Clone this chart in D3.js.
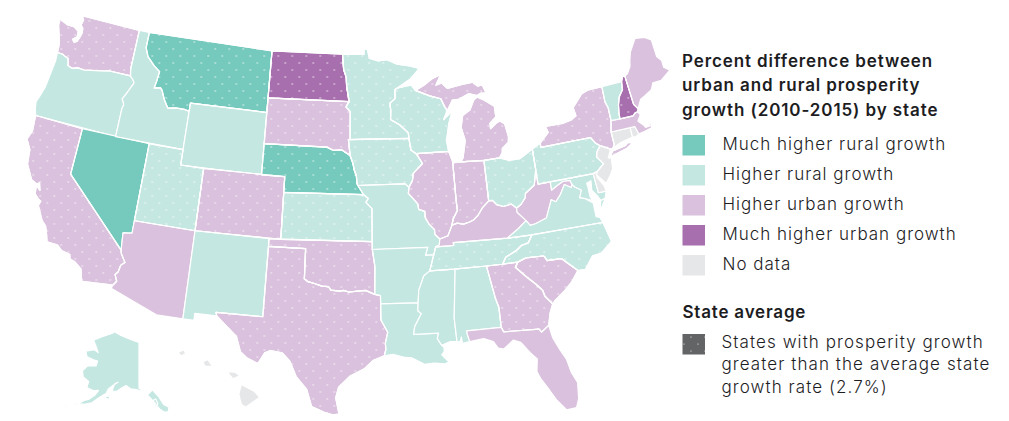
<!DOCTYPE html>
<html>
<head>
<meta charset="utf-8">
<script src="https://cdn.jsdelivr.net/npm/d3@7"></script>
<style>
  html, body { margin: 0; padding: 0; background: #fff; }
  text { font-family: Inter, "Noto Sans", sans-serif; fill: #1d1d1f; }
</style>
</head>
<body>
<div id="visualization"></div>
<script>
let w = 1009;
let h = 421;

// categories, each state by postal code
let muchRural = ["MT", "NV", "NE"];
let higherRural = ["OR", "ID", "WY", "UT", "NM", "KS", "MN", "IA", "MO", "AR", "LA", "MS", "AL", "WI", "OH", "PA", "VA", "NC", "TN", "MD", "VT", "AK"];
let higherUrban = ["WA", "CA", "AZ", "CO", "SD", "OK", "TX", "IL", "IN", "MI", "KY", "WV", "GA", "SC", "FL", "NY", "MA", "ME"];
let muchUrban = ["ND", "NH"];
let noData = ["NJ", "DE", "CT", "RI", "HI"];

// above the average state growth rate
let dotted = ["WA", "MT", "ND", "SD", "NE", "CA", "UT", "CO", "KS", "OK", "TX", "MN", "IA", "WI", "IL", "IN", "MI", "OH", "PA", "NY", "NH", "TN", "NC", "GA", "SC"];

let legendLabels = ["Much higher rural growth", "Higher rural growth", "Higher urban growth", "Much higher urban growth", "No data"];
let legendColors = ["#75c9bd", "#c5e7e2", "#dac1dd", "#a86fae", "#e6e7e8"];
let titleLines = ["Percent difference between", "urban and rural prosperity", "growth (2010-2015) by state"];
let averageTitle = "State average";
let averageLines = ["States with prosperity growth", "greater than the average state", "growth rate (2.7%)"];

// state outlines in lon/lat, traced by eye
let WA = [[[-117.04,49],[-122.76,49],[-122.5,48.75],[-122.6,48.4],[-122.35,48.2],[-122.3,47.9],[-122.4,47.6],[-122.55,47.3],[-122.8,47.2],[-123,47.35],[-122.65,47.6],[-122.7,47.95],[-123.15,48.15],[-123.9,48.16],[-124.72,48.38],[-124.65,47.95],[-124.3,47.3],[-124.1,46.9],[-124.05,46.65],[-124,46.26],[-123.5,46.25],[-123.2,46.15],[-122.9,46.08],[-122.8,45.85],[-122.75,45.65],[-122.3,45.55],[-121.8,45.68],[-121.2,45.65],[-120.6,45.74],[-119.9,45.84],[-119.3,45.93],[-119,46],[-116.92,46],[-117.04,46.42]]];
let OR = [[[-124,46.26],[-123.5,46.25],[-123.2,46.15],[-122.9,46.08],[-122.8,45.85],[-122.75,45.65],[-122.3,45.55],[-121.8,45.68],[-121.2,45.65],[-120.6,45.74],[-119.9,45.84],[-119.3,45.93],[-119,46],[-116.92,46],[-116.6,45.78],[-116.46,45.6],[-116.68,45.25],[-116.85,44.95],[-117.2,44.45],[-117.03,44.25],[-116.95,44.1],[-117.03,43.83],[-117.03,42],[-124.21,42],[-124.4,42.3],[-124.55,42.84],[-124.4,43.2],[-124.15,43.9],[-124.05,44.8],[-123.95,45.7]]];
let CA = [[[-124.21,42],[-120,42],[-120,39],[-114.63,35],[-114.57,34.8],[-114.15,34.28],[-114.43,34.05],[-114.53,33.6],[-114.72,33.4],[-114.5,33],[-114.72,32.72],[-117.12,32.53],[-117.25,32.85],[-117.4,33.3],[-118,33.65],[-118.4,33.75],[-118.5,34.03],[-119.2,34.15],[-119.6,34.42],[-120.47,34.45],[-120.65,34.9],[-120.9,35.4],[-121.3,35.7],[-121.9,36.55],[-121.8,36.85],[-122.05,36.95],[-122.4,37.2],[-122.5,37.75],[-122.1,37.5],[-122.3,37.95],[-122.5,37.83],[-123,38],[-123.7,38.9],[-123.85,39.8],[-124.35,40.4],[-124.1,41],[-124.2,41.75]]];
let NV = [[[-120,42],[-114.04,42],[-114.04,36.2],[-114.75,36.1],[-114.7,35.6],[-114.63,35],[-120,39]]];
let ID = [[[-117.04,49],[-116.05,49],[-116.05,48],[-115.7,47.45],[-114.95,46.95],[-114.35,46.65],[-114.45,46],[-114.55,45.56],[-114,45.65],[-113.8,45.5],[-113.45,44.95],[-113,44.45],[-112.3,44.55],[-111.5,44.55],[-111.05,44.48],[-111.05,42],[-117.03,42],[-117.03,43.83],[-116.95,44.1],[-117.03,44.25],[-117.2,44.45],[-116.85,44.95],[-116.68,45.25],[-116.46,45.6],[-116.6,45.78],[-116.92,46],[-117.04,46.42]]];
let MT = [[[-116.05,49],[-104.05,49],[-104.05,45],[-111.05,45],[-111.05,44.48],[-111.5,44.55],[-112.3,44.55],[-113,44.45],[-113.45,44.95],[-113.8,45.5],[-114,45.65],[-114.55,45.56],[-114.45,46],[-114.35,46.65],[-114.95,46.95],[-115.7,47.45],[-116.05,48]]];
let WY = [[[-111.05,45],[-104.05,45],[-104.05,41],[-111.05,41]]];
let UT = [[[-114.04,42],[-111.05,42],[-111.05,41],[-109.05,41],[-109.05,37],[-114.04,37]]];
let CO = [[[-109.05,41],[-102.05,41],[-102.05,37],[-109.05,37]]];
let AZ = [[[-114.04,37],[-109.05,37],[-109.05,31.33],[-111.07,31.33],[-114.81,32.5],[-114.72,32.72],[-114.5,33],[-114.72,33.4],[-114.53,33.6],[-114.43,34.05],[-114.15,34.28],[-114.57,34.8],[-114.63,35],[-114.7,35.6],[-114.75,36.1],[-114.04,36.2]]];
let NM = [[[-109.05,37],[-103,37],[-103.04,32],[-106.62,32],[-106.53,31.78],[-108.21,31.78],[-108.21,31.33],[-109.05,31.33]]];
let TX = [[[-103,36.5],[-100,36.5],[-100,34.56],[-99.7,34.4],[-99.2,34.3],[-98.6,34.15],[-98.1,34.13],[-97.9,33.9],[-97.2,33.85],[-96.9,33.9],[-96.5,33.8],[-95.8,33.85],[-95.2,33.9],[-94.48,33.64],[-94.04,33.55],[-94.04,33.02],[-94.04,32],[-93.55,31.2],[-93.75,30.5],[-93.72,30.1],[-93.85,29.7],[-94.7,29.4],[-95.3,28.9],[-96.4,28.4],[-97.2,27.7],[-97.4,27],[-97.15,25.96],[-97.6,25.9],[-98.2,26.05],[-99.1,26.4],[-99.5,27.5],[-100.3,28.3],[-100.8,29.25],[-101.4,29.77],[-102.3,29.88],[-102.7,29.7],[-103.15,28.98],[-104,29.3],[-104.5,29.65],[-104.9,30.6],[-106,31.4],[-106.53,31.78],[-106.62,32],[-103.04,32]]];
let OK = [[[-103,37],[-94.62,37],[-94.62,36.5],[-94.43,35.4],[-94.48,33.64],[-95.2,33.9],[-95.8,33.85],[-96.5,33.8],[-96.9,33.9],[-97.2,33.85],[-97.9,33.9],[-98.1,34.13],[-98.6,34.15],[-99.2,34.3],[-99.7,34.4],[-100,34.56],[-100,36.5],[-103,36.5]]];
let KS = [[[-102.05,40],[-95.3,40],[-94.9,39.75],[-95.1,39.5],[-94.6,39.1],[-94.62,37],[-102.05,37]]];
let NE = [[[-104.05,43],[-98.5,43],[-97.9,42.8],[-97.2,42.85],[-96.45,42.49],[-96.2,42],[-96.1,41.6],[-95.9,41.2],[-95.85,40.7],[-95.77,40.58],[-95.3,40],[-102.05,40],[-102.05,41],[-104.05,41]]];
let SD = [[[-104.05,45.94],[-96.56,45.94],[-96.85,45.6],[-96.45,45.3],[-96.45,43.5],[-96.6,43.5],[-96.45,42.49],[-97.2,42.85],[-97.9,42.8],[-98.5,43],[-104.05,43]]];
let ND = [[[-104.05,49],[-97.23,49],[-97.1,48],[-96.85,47.5],[-96.8,46.9],[-96.56,45.94],[-104.05,45.94]]];
let MN = [[[-97.23,49],[-95.15,49],[-95.15,49.38],[-94.8,49.3],[-94.65,48.75],[-93.8,48.55],[-92.95,48.62],[-92,48.3],[-90.8,48.15],[-89.9,47.95],[-90.8,47.3],[-92.1,46.75],[-92.3,46.66],[-92.3,46.1],[-92.8,45.8],[-92.75,45.3],[-92.8,44.75],[-92,44.4],[-91.25,43.85],[-91.22,43.5],[-96.45,43.5],[-96.45,45.3],[-96.85,45.6],[-96.56,45.94],[-96.8,46.9],[-96.85,47.5],[-97.1,48]]];
let IA = [[[-96.6,43.5],[-91.22,43.5],[-91.1,42.75],[-90.65,42.5],[-90.15,41.85],[-91,41.25],[-91.1,40.8],[-91.42,40.38],[-91.73,40.61],[-95.77,40.58],[-95.85,40.7],[-95.9,41.2],[-96.1,41.6],[-96.2,42],[-96.45,42.49]]];
let MO = [[[-95.77,40.58],[-91.73,40.61],[-91.42,40.38],[-91.5,40],[-90.75,39.3],[-90.7,38.95],[-90.2,38.8],[-90.2,38.4],[-89.9,37.95],[-89.5,37.6],[-89.5,37.3],[-89.13,36.98],[-89.2,36.6],[-89.5,36.5],[-89.7,36],[-90.37,36],[-90.15,36.5],[-94.62,36.5],[-94.62,37],[-94.6,39.1],[-95.1,39.5],[-94.9,39.75],[-95.3,40]]];
let AR = [[[-94.62,36.5],[-90.15,36.5],[-90.37,36],[-89.7,36],[-90.1,35],[-90.6,34.7],[-91.05,33.8],[-91.15,33],[-94.04,33.02],[-94.04,33.55],[-94.48,33.64],[-94.43,35.4]]];
let LA = [[[-94.04,33.02],[-91.15,33],[-91.2,32.5],[-90.95,32.3],[-91.5,31.5],[-91.6,31],[-89.73,31],[-89.85,30.65],[-89.55,30.2],[-89.4,30.05],[-89.4,29.8],[-89.6,29.6],[-89.1,29.1],[-89.4,29],[-90.2,29.1],[-90.9,29.05],[-91.8,29.5],[-92.3,29.55],[-93.2,29.77],[-93.85,29.7],[-93.72,30.1],[-93.75,30.5],[-93.55,31.2],[-94.04,32]]];
let MS = [[[-90.1,35],[-88.2,35],[-88.1,34.9],[-88.47,31.9],[-88.4,30.37],[-88.9,30.4],[-89.55,30.2],[-89.85,30.65],[-89.73,31],[-91.6,31],[-91.5,31.5],[-90.95,32.3],[-91.2,32.5],[-91.15,33],[-91.05,33.8],[-90.6,34.7]]];
let AL = [[[-88.2,35],[-85.6,35],[-85.18,32.87],[-85,32.3],[-85,31],[-87.6,31],[-87.6,30.85],[-87.45,30.3],[-88,30.23],[-88.05,30.65],[-88.15,30.35],[-88.4,30.37],[-88.47,31.9],[-88.1,34.9]]];
let TN = [[[-90.1,35],[-89.7,36],[-89.5,36.5],[-88.05,36.5],[-88.07,36.68],[-83.68,36.6],[-81.68,36.59],[-82.05,36.12],[-82.6,36.03],[-83.1,35.75],[-84,35.4],[-84.32,34.99],[-85.6,35],[-88.2,35]]];
let KY = [[[-89.5,36.5],[-89.2,36.6],[-89.13,36.98],[-88.45,37.15],[-88.05,37.8],[-87.6,37.9],[-87.1,37.8],[-86.6,37.9],[-86.25,38],[-85.85,38.25],[-85.4,38.72],[-84.82,39.1],[-84.5,39.1],[-84.2,38.8],[-83.65,38.63],[-83,38.72],[-82.6,38.42],[-82.6,38.15],[-81.97,37.54],[-82.7,37.1],[-83.68,36.6],[-88.07,36.68],[-88.05,36.5]]];
let WV = [[[-82.6,38.42],[-82.2,38.6],[-81.75,39],[-81.7,39.25],[-80.85,39.7],[-80.52,40.64],[-80.52,39.72],[-79.48,39.72],[-79.48,39.2],[-78.9,39.45],[-78.4,39.62],[-77.83,39.6],[-77.72,39.32],[-77.83,39.13],[-78.35,39.4],[-78.85,38.8],[-79.3,38.42],[-79.65,38.6],[-80.3,37.5],[-81.25,37.25],[-81.7,37.2],[-81.97,37.54],[-82.6,38.15]]];
let VA = [[[-83.68,36.6],[-81.68,36.59],[-75.87,36.55],[-76,36.9],[-76.3,37],[-76.3,37.6],[-76.3,37.9],[-76.95,38.3],[-77.3,38.4],[-77.04,38.85],[-77.5,39.1],[-77.72,39.32],[-77.83,39.13],[-78.35,39.4],[-78.85,38.8],[-79.3,38.42],[-79.65,38.6],[-80.3,37.5],[-81.25,37.25],[-81.7,37.2],[-81.97,37.54],[-82.7,37.1]],
  [[-75.95,37.15],[-75.65,37.95],[-75.25,38.03],[-75.7,37.5]]];
let MD = [[[-79.48,39.72],[-75.79,39.72],[-75.7,38.46],[-75.05,38.45],[-75.25,38.03],[-75.65,37.95],[-75.85,38.3],[-76.2,38.7],[-76.1,39.3],[-76.5,39.2],[-76.45,38.9],[-76.45,38.35],[-76.3,38.05],[-76.95,38.3],[-77.3,38.4],[-77.04,38.85],[-77.5,39.1],[-77.72,39.32],[-77.83,39.6],[-78.4,39.62],[-78.9,39.45],[-79.48,39.2]]];
let DE = [[[-75.79,39.72],[-75.4,39.8],[-75.55,39.45],[-75.1,38.8],[-75.05,38.45],[-75.7,38.46]]];
let PA = [[[-80.52,41.98],[-79.76,42.27],[-79.76,42],[-75.35,42],[-75.05,41.6],[-74.7,41.36],[-75.1,41],[-75.2,40.7],[-74.75,40.2],[-75.4,39.8],[-75.79,39.72],[-80.52,39.72]]];
let NY = [[[-79.76,42],[-79.76,42.27],[-78.9,42.85],[-79.05,43.27],[-77.5,43.25],[-76.7,43.35],[-76.2,43.55],[-76.3,44.1],[-75.3,44.85],[-74.7,45],[-73.35,45],[-73.4,44],[-73.25,43.6],[-73.27,42.75],[-73.5,42.05],[-73.49,41.2],[-73.7,41],[-73.9,41],[-74.7,41.36],[-75.05,41.6],[-75.35,42]],
  [[-74,40.6],[-73.75,40.85],[-72.6,40.98],[-72.3,41.15],[-71.9,41.05],[-72.5,40.8],[-73.9,40.55]]];
let NJ = [[[-74.7,41.36],[-73.9,41],[-74.25,40.48],[-74,40.45],[-74.1,39.75],[-74.4,39.4],[-74.9,38.93],[-75.15,39.2],[-75.55,39.6],[-75.4,39.8],[-74.75,40.2],[-75.2,40.7],[-75.1,41]]];
let CT = [[[-73.5,42.05],[-71.8,42.02],[-71.8,41.4],[-72.9,41.25],[-73.7,41],[-73.49,41.2]]];
let RI = [[[-71.8,42.02],[-71.38,42.02],[-71.2,41.5],[-71.5,41.37],[-71.8,41.4]]];
let MA = [[[-73.27,42.75],[-71.3,42.7],[-71,42.87],[-70.8,42.87],[-70.65,42.65],[-71,42.3],[-70.6,41.95],[-70.5,41.78],[-70.05,41.8],[-70.25,42.05],[-69.95,41.95],[-70,41.65],[-70.65,41.55],[-71.12,41.5],[-71.2,41.5],[-71.38,42.02],[-71.8,42.02],[-73.5,42.05]]];
let VT = [[[-73.35,45],[-71.5,45],[-71.6,44.5],[-72.05,44.1],[-72.3,43.6],[-72.45,43],[-72.46,42.73],[-73.27,42.75],[-73.25,43.6],[-73.4,44]]];
let NH = [[[-71.5,45],[-71.3,45.3],[-71.08,45.3],[-70.98,43.4],[-70.7,43.07],[-70.8,42.87],[-71,42.87],[-71.3,42.7],[-72.46,42.73],[-72.45,43],[-72.3,43.6],[-72.05,44.1],[-71.6,44.5]]];
let ME = [[[-71.08,45.3],[-70.8,45.4],[-70.4,45.8],[-70.25,46.2],[-70,46.7],[-69.23,47.46],[-69,47.43],[-68.35,47.35],[-67.8,47.07],[-67.78,45.95],[-67.45,45.6],[-67.45,45.15],[-67,44.85],[-68,44.4],[-68.8,44.4],[-69.1,44],[-69.8,43.75],[-70.25,43.6],[-70.7,43.07],[-70.98,43.4]]];
let OH = [[[-84.82,41.7],[-83.45,41.73],[-82.7,41.5],[-81.7,41.5],[-80.52,41.98],[-80.52,40.64],[-80.85,39.7],[-81.7,39.25],[-81.75,39],[-82.2,38.6],[-82.6,38.42],[-83,38.72],[-83.65,38.63],[-84.2,38.8],[-84.5,39.1],[-84.82,39.1]]];
let IN = [[[-87.53,41.72],[-87.2,41.76],[-86.82,41.76],[-84.82,41.7],[-84.82,39.1],[-85.4,38.72],[-85.85,38.25],[-86.25,38],[-86.6,37.9],[-87.1,37.8],[-87.6,37.9],[-88.05,37.8],[-87.9,38.2],[-87.5,38.7],[-87.53,39.35]]];
let IL = [[[-90.65,42.5],[-87.8,42.5],[-87.55,41.9],[-87.53,41.72],[-87.53,39.35],[-87.5,38.7],[-87.9,38.2],[-88.05,37.8],[-88.45,37.15],[-89.13,36.98],[-89.5,37.3],[-89.5,37.6],[-89.9,37.95],[-90.2,38.4],[-90.2,38.8],[-90.7,38.95],[-90.75,39.3],[-91.5,40],[-91.42,40.38],[-91.1,40.8],[-91,41.25],[-90.15,41.85]]];
let WI = [[[-92.1,46.75],[-91.2,46.87],[-90.75,46.9],[-90.4,46.55],[-89.1,46.14],[-88.1,45.9],[-87.8,45.35],[-87.6,45.1],[-88,44.55],[-87.4,44.9],[-87.05,45.25],[-87.55,44.3],[-87.9,43.2],[-87.8,42.5],[-90.65,42.5],[-91.1,42.75],[-91.22,43.5],[-91.25,43.85],[-92,44.4],[-92.8,44.75],[-92.75,45.3],[-92.8,45.8],[-92.3,46.1],[-92.3,46.66]]];
let MI = [[[-86.82,41.76],[-84.82,41.7],[-83.45,41.73],[-83.15,42.05],[-83.1,42.3],[-82.5,42.65],[-82.42,43],[-82.6,43.85],[-83,44.07],[-83.35,43.95],[-83.9,43.65],[-83.9,44],[-83.3,44.35],[-83.3,45.05],[-84.1,45.5],[-84.75,45.78],[-85.1,45.6],[-85.55,45],[-86.25,44.7],[-86.5,43.95],[-86.25,43.1],[-86.6,42]],
  [[-90.4,46.55],[-89.1,46.14],[-88.1,45.9],[-87.8,45.35],[-87.6,45.1],[-87.05,45.75],[-86.5,45.75],[-85.5,46.05],[-84.75,45.87],[-84.35,46],[-83.9,45.97],[-84.15,46.5],[-84.6,46.47],[-85,46.75],[-86.1,46.67],[-87.4,46.52],[-87.9,46.9],[-88.45,46.8],[-87.9,47.47],[-88.7,47.25],[-89.6,46.83]]];
let NC = [[[-84.32,34.99],[-84,35.4],[-83.1,35.75],[-82.6,36.03],[-82.05,36.12],[-81.68,36.59],[-75.87,36.55],[-75.75,36.2],[-75.5,35.25],[-76.5,34.65],[-77.2,34.6],[-77.95,33.85],[-78.55,33.86],[-79.67,34.8],[-80.8,34.82],[-80.95,35.1],[-81.05,35.15],[-82.4,35.2],[-83.1,35]]];
let SC = [[[-83.1,35],[-82.4,35.2],[-81.05,35.15],[-80.95,35.1],[-80.8,34.82],[-79.67,34.8],[-78.55,33.86],[-79.2,33.2],[-79.9,32.7],[-80.65,32.25],[-80.9,32.03],[-81.4,32.6],[-81.5,33],[-82,33.5],[-82.6,34],[-83.35,34.7]]];
let GA = [[[-85.6,35],[-84.32,34.99],[-83.1,35],[-83.35,34.7],[-82.6,34],[-82,33.5],[-81.5,33],[-81.4,32.6],[-80.9,32.03],[-81.2,31.5],[-81.45,30.72],[-82.05,30.36],[-82.2,30.57],[-84.86,30.7],[-85,31],[-85,32.3],[-85.18,32.87]]];
let FL = [[[-87.6,31],[-85,31],[-84.86,30.7],[-82.2,30.57],[-82.05,30.36],[-81.45,30.72],[-81.3,29.9],[-80.9,29.05],[-80.55,28.4],[-80.35,27.5],[-80.03,26.8],[-80.15,25.75],[-80.4,25.2],[-81.1,25.15],[-81.7,25.9],[-82.1,26.6],[-82.6,27.4],[-82.8,27.9],[-82.65,28.7],[-83.1,29.15],[-83.7,29.9],[-84.2,30.1],[-85,29.6],[-85.4,29.7],[-85.7,30.15],[-86.4,30.4],[-87.45,30.3],[-87.6,30.85]]];
let AK = [[[-141,69.65],[-141,60.3],[-137.5,58.9],[-135.5,59.8],[-133.4,58.4],[-131.8,56.6],[-130,55.9],[-130.5,55],[-131.8,55],[-133.5,55.8],[-135.5,57.5],[-136.6,58.2],[-138,59],[-139.8,59.6],[-142,60],[-144.5,60.1],[-146.5,60.7],[-148.5,60],[-150,59.3],[-151.9,59.2],[-151.3,60.8],[-150,61.2],[-152,60.3],[-153.5,59.5],[-154,58.6],[-156.5,57.3],[-158.5,56],[-161,55.3],[-163.2,54.9],[-161.5,56],[-160,56.5],[-158,57.8],[-157.2,58.8],[-159,58.5],[-162,58.7],[-162,60],[-164.8,60.5],[-166,61.6],[-164.8,62.8],[-164.5,63],[-161,63.5],[-161,64.5],[-163,64.5],[-166.4,64.6],[-168,65.6],[-164.5,66.5],[-162,66.2],[-163.7,67.1],[-166.5,68.3],[-163,69.5],[-157,71],[-156.5,71.3],[-152,70.8],[-146,70.2]],
  [[-154.5,57.5],[-152.5,57.5],[-152.3,58.2],[-153.5,58]],
  [[-164.9,54.6],[-163.2,54.7],[-163.4,55],[-164.6,54.9]],
  [[-168.9,53.3],[-167.2,53.8],[-166.2,54],[-166.6,53.5]],
  [[-174.8,52.05],[-173.5,52.1],[-174.3,52.3]],
  [[-177.2,51.7],[-176.2,51.75],[-176.8,52]],
  [[-134.8,56.2],[-133.9,56.9],[-134.5,57.9],[-135.8,57.6]]];
let HI = [[[-155.9,20.25],[-155.1,19.85],[-154.8,19.5],[-155.65,18.95],[-155.9,19.1],[-156.05,19.7]],
  [[-156.7,20.9],[-156.6,21],[-156.25,20.95],[-156,20.75],[-156.4,20.58]],
  [[-158.25,21.55],[-157.95,21.7],[-157.65,21.3],[-158.1,21.3]],
  [[-159.75,22.1],[-159.4,22.25],[-159.3,22],[-159.6,21.9]],
  [[-157.3,21.1],[-156.75,21.15],[-156.9,21.05]]];

let outlines = {WA, OR, CA, NV, ID, MT, WY, UT, CO, AZ, NM, TX, OK, KS, NE, SD, ND, MN, IA, MO, AR, LA, MS, AL, TN, KY, WV, VA, MD, DE, PA, NY, NJ, CT, RI, MA, VT, NH, ME, OH, IN, IL, WI, MI, NC, SC, GA, FL, AK, HI};

let colorOf = {};
[muchRural, higherRural, higherUrban, muchUrban, noData].forEach(function(group, i){
  group.forEach(function(code){ colorOf[code] = legendColors[i]; });
});

// d3.geo wants clockwise rings, fix whichever way I typed them
let states = Object.keys(outlines).map(function(code){
  let rings = outlines[code].map(function(ring){
    let closed = ring.concat([ring[0]]);
    let poly = {type: "Polygon", coordinates: [closed]};
    if (d3.geoArea(poly) > 2 * Math.PI) closed.reverse();
    return [closed];
  });
  return {type: "Feature", id: code, geometry: {type: "MultiPolygon", coordinates: rings}};
});

let viz = d3.select("#visualization")
    .append("svg")
  .attr("width", w)
  .attr("height", h)
  .style("display", "block")
  .style("background-color", "white")
;

// lower 48 plus two hand placed insets
let lower48 = d3.geoConicEqualArea().rotate([96, 0]).center([-0.6, 38.7]).parallels([29.5, 45.5]).scale(892).translate([348, 215]);
let alaska = d3.geoConicEqualArea().rotate([141, 0]).center([0, 65]).parallels([55, 65]).scale(280).translate([139, 365]);
let hawaii = d3.geoConicEqualArea().rotate([157, 0]).center([-0.5, 20.8]).parallels([8, 18]).scale(1000).translate([215, 375]);

function statePath(d){
  let proj = d.id == "AK" ? alaska : d.id == "HI" ? hawaii : lower48;
  return d3.geoPath(proj)(d);
}

let defs = viz.append("defs");
function dotPattern(id, x, y, r){
  let p = defs.append("pattern")
    .attr("id", id)
    .attr("patternUnits", "userSpaceOnUse")
    .attr("x", x)
    .attr("y", y)
    .attr("width", 14)
    .attr("height", 14)
  ;
  p.append("circle").attr("cx", 0).attr("cy", 0).attr("r", r).attr("fill", "white");
  p.append("circle").attr("cx", 14).attr("cy", 0).attr("r", r).attr("fill", "white");
  p.append("circle").attr("cx", 0).attr("cy", 14).attr("r", r).attr("fill", "white");
  p.append("circle").attr("cx", 14).attr("cy", 14).attr("r", r).attr("fill", "white");
  p.append("circle").attr("cx", 7).attr("cy", 7).attr("r", r).attr("fill", "white");
}
dotPattern("dots", 5.3, 7, 0.65);
dotPattern("legenddots", 684, 344, 0.6);

viz.append("g").selectAll("path").data(states).enter()
  .append("path")
  .attr("d", statePath)
  .attr("fill", function(d){ return colorOf[d.id]; })
  .attr("stroke", "white")
  .attr("stroke-width", 1.2)
  .attr("stroke-linejoin", "round")
;

viz.append("g").selectAll("path").data(states.filter(function(d){ return dotted.includes(d.id); })).enter()
  .append("path")
  .attr("d", statePath)
  .attr("fill", "url(#dots)")
  .attr("stroke", "white")
  .attr("stroke-width", 1.2)
  .attr("stroke-linejoin", "round")
;

// legend
let legend = viz.append("g");

legend.selectAll(".title").data(titleLines).enter()
  .append("text")
  .attr("class", "title")
  .attr("x", 682)
  .attr("y", function(d, i){ return 67 + i * 24.4; })
  .attr("font-size", 17)
  .attr("font-weight", 600)
  .attr("letter-spacing", 0.9)
  .text(function(d){ return d; })
;

let rowY = d3.scalePoint().domain(legendLabels).range([135, 255]);

legend.selectAll(".swatch").data(legendLabels).enter()
  .append("rect")
  .attr("class", "swatch")
  .attr("x", 682.5)
  .attr("y", function(d){ return rowY(d); })
  .attr("width", 22.5)
  .attr("height", 20.5)
  .attr("fill", function(d, i){ return legendColors[i]; })
;

legend.selectAll(".label").data(legendLabels).enter()
  .append("text")
  .attr("class", "label")
  .attr("x", 722.5)
  .attr("y", function(d){ return rowY(d) + 14.5; })
  .attr("font-size", 17)
  .attr("font-weight", 300)
  .attr("letter-spacing", 1)
  .text(function(d){ return d; })
;

legend.append("text")
  .attr("x", 682.5)
  .attr("y", 318)
  .attr("font-size", 17)
  .attr("font-weight", 600)
  .attr("letter-spacing", 0.8)
  .text(averageTitle)
;

legend.append("rect").attr("x", 682.5).attr("y", 334).attr("width", 22.5).attr("height", 20.5).attr("fill", "#636466");
legend.append("rect").attr("x", 682.5).attr("y", 334).attr("width", 22.5).attr("height", 20.5).attr("fill", "url(#legenddots)");

legend.selectAll(".avg").data(averageLines).enter()
  .append("text")
  .attr("class", "avg")
  .attr("x", 721.5)
  .attr("y", function(d, i){ return 348 + i * 22.3; })
  .attr("font-size", 17)
  .attr("font-weight", 300)
  .attr("letter-spacing", 1.08)
  .text(function(d){ return d; })
;
</script>
</body>
</html>
